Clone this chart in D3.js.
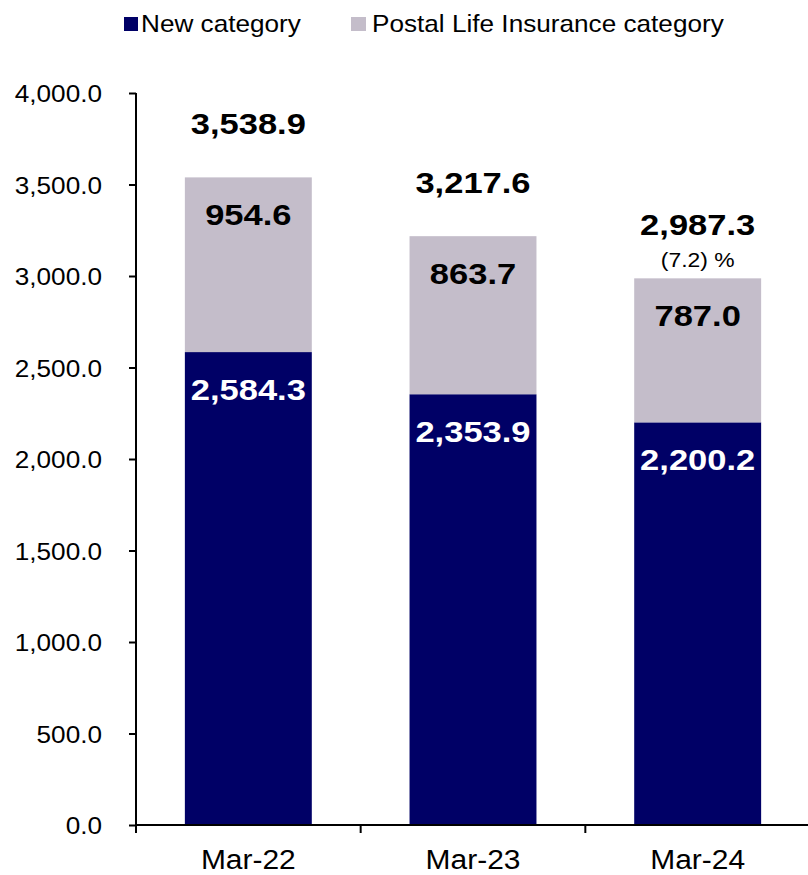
<!DOCTYPE html>
<html>
<head>
<meta charset="utf-8">
<script src="https://cdn.jsdelivr.net/npm/d3@7"></script>
<style>
  html, body { margin: 0; padding: 0; background: #fff; }
  svg { display: block; font-family: "Liberation Sans", Arial, sans-serif; }
</style>
</head>
<body>
<svg id="chart" width="808" height="875"></svg>
<script>
// ---- data ----
const categories = ["Mar-22", "Mar-23", "Mar-24"];
const newCategory = [2584.3, 2353.9, 2200.2];
const postalLife = [954.6, 863.7, 787.0];
const totals = [3538.9, 3217.6, 2987.3];
const changeLabels = ["", "", "(7.2) %"];
const yTicks = [0, 500, 1000, 1500, 2000, 2500, 3000, 3500, 4000];
const seriesNames = ["New category", "Postal Life Insurance category"];

// ---- style ----
const NAVY = "#000066", GREY = "#c4bdca";
const SX = 1.09;   // horizontal stretch of regular text in the reference
const SXB = 1.17;  // horizontal stretch of bold value labels

const svg = d3.select("#chart");
const x = d3.scaleBand().domain(categories).range([136, 810]).paddingInner(0.435).paddingOuter(0.2175);
const y = d3.scaleLinear().domain([0, 4000]).range([825, 93]);
const fmt = d3.format(",.1f");

function stretchedText(g, tx, ty, str, size, weight, fill, anchor, sx) {
  return g.append("text")
    .attr("transform", `translate(${tx},${ty}) scale(${sx || SX},1)`)
    .attr("text-anchor", anchor || "middle")
    .style("font-size", size + "px")
    .style("font-weight", weight || "normal")
    .attr("fill", fill || "#000")
    .text(str);
}

// ---- bars ----
const stackData = categories.map((c, i) => ({ cat: c, n: newCategory[i], p: postalLife[i], t: totals[i], chg: changeLabels[i] }));
const bars = svg.append("g");
bars.selectAll("rect.new").data(stackData).join("rect")
  .attr("x", d => x(d.cat)).attr("width", x.bandwidth())
  .attr("y", d => y(d.n)).attr("height", d => y(0) - y(d.n))
  .attr("fill", NAVY);
bars.selectAll("rect.pl").data(stackData).join("rect")
  .attr("x", d => x(d.cat)).attr("width", x.bandwidth())
  .attr("y", d => y(d.n + d.p)).attr("height", d => y(d.n) - y(d.n + d.p))
  .attr("fill", GREY);

// ---- axes ----
const yAxis = svg.append("g").attr("transform", "translate(136,0)")
  .call(d3.axisLeft(y).tickValues(yTicks).tickSize(7).tickFormat(fmt));
yAxis.select(".domain").attr("stroke", "#000").attr("stroke-width", 2).attr("d", `M0,${y(4000)}V${y(0)}`);
yAxis.selectAll(".tick line").attr("stroke", "#000").attr("stroke-width", 2);
yAxis.selectAll(".tick text")
  .attr("x", null).attr("dy", null)
  .attr("transform", `translate(-34,8.5) scale(${SX},1)`)
  .attr("text-anchor", "end").attr("fill", "#000")
  .style("font-size", "24px").style("font-family", "'Liberation Sans', Arial, sans-serif");

const xAxis = svg.append("g").attr("transform", `translate(0,${y(0)})`)
  .call(d3.axisBottom(x).tickSize(0));
xAxis.select(".domain").attr("stroke", "#000").attr("stroke-width", 2)
  .attr("d", `M${x.range()[0]},0H808`);
xAxis.selectAll(".tick text")
  .attr("y", null).attr("dy", null)
  .attr("transform", `translate(0,44) scale(${SX},1)`)
  .attr("fill", "#000")
  .style("font-size", "27.5px").style("font-family", "'Liberation Sans', Arial, sans-serif");
const gap = x.step() - x.bandwidth();
const bounds = categories.map(c => x(c) - gap / 2);
xAxis.selectAll("line.bt").data(bounds).join("line")
  .attr("x1", d => d).attr("x2", d => d).attr("y1", 0).attr("y2", 8)
  .attr("stroke", "#000").attr("stroke-width", 2);

// ---- labels ----
const lab = svg.append("g");
stackData.forEach(d => {
  const cx = x(d.cat) + x.bandwidth() / 2;
  stretchedText(lab, cx, y(d.n) + 48, fmt(d.n), 29.5, "bold", "#fff", "middle", SXB);
  stretchedText(lab, cx, y(d.n + d.p) + 48, fmt(d.p), 29.5, "bold", "#000", "middle", SXB);
  stretchedText(lab, cx, y(d.n + d.p) - 43, fmt(d.t), 29.5, "bold", "#000", "middle", SXB);
  if (d.chg) stretchedText(lab, cx, y(d.n + d.p) - 11, d.chg, 21, "normal", "#000");
});

// ---- legend ----
const leg = svg.append("g");
leg.append("rect").attr("x", 124).attr("y", 17).attr("width", 14).attr("height", 14).attr("fill", NAVY);
stretchedText(leg, 141, 31.5, seriesNames[0], 24, "normal", "#000", "start");
leg.append("rect").attr("x", 351).attr("y", 17).attr("width", 15).attr("height", 14).attr("fill", GREY);
stretchedText(leg, 372, 31.5, seriesNames[1], 24, "normal", "#000", "start");
</script>
</body>
</html>
